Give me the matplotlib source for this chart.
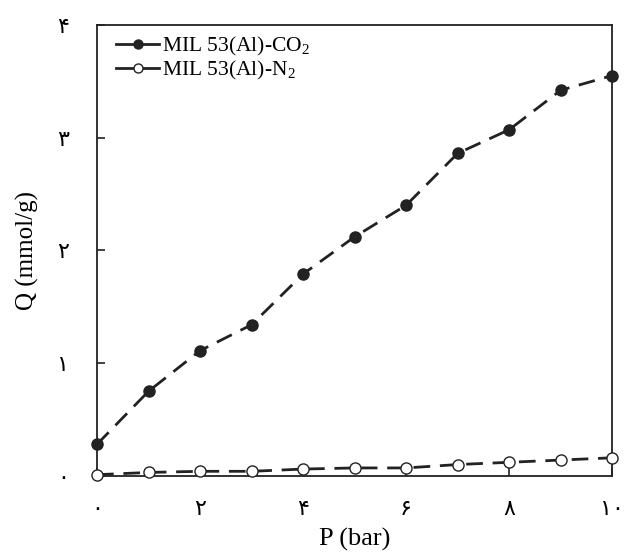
import numpy as np
import matplotlib
matplotlib.use('Agg')
import matplotlib.pyplot as plt
from matplotlib.lines import Line2D

# data
pressure = [0, 1, 2, 3, 4, 5, 6, 7, 8, 9, 10]
q_co2 = [0.28, 0.75, 1.11, 1.34, 1.79, 2.12, 2.40, 2.86, 3.07, 3.42, 3.55]
q_n2 = [0.01, 0.03, 0.04, 0.04, 0.06, 0.07, 0.07, 0.10, 0.12, 0.14, 0.16]

x_ticks = [0, 2, 4, 6, 8, 10]
x_labels = ['۰', '۲', '۴', '۶', '۸', '۱۰']
y_ticks = [0, 1, 2, 3, 4]
y_labels = ['۰', '۱', '۲', '۳', '۴']

plt.rcParams['font.family'] = ['Liberation Serif', 'DejaVu Sans']
plt.rcParams['mathtext.fontset'] = 'custom'
plt.rcParams['mathtext.rm'] = 'Liberation Serif'

fig = plt.figure(figsize=(6.26, 5.52), dpi=100)
ax = fig.add_axes([0.155, 0.138, 0.823, 0.817])

col = '#222222'
ax.plot(pressure, q_co2, color=col, lw=2.0, dashes=(6, 3.5), marker='o',
        ms=8, mfc=col, mec=col, clip_on=False, zorder=3)
ax.plot(pressure, q_n2, color=col, lw=2.0, dashes=(6, 3.5), marker='o',
        ms=8, mfc='white', mec=col, mew=1.0, clip_on=False, zorder=3)

ax.set_xlim(0, 10)
ax.set_ylim(0, 4)
ax.set_xticks(x_ticks)
ax.set_xticklabels(x_labels, family='DejaVu Sans', fontsize=16)
ax.set_yticks(y_ticks)
ax.set_yticklabels(y_labels, family='DejaVu Sans', fontsize=16)
ax.tick_params(direction='in', length=6, width=1.2, color=col)
ax.tick_params(axis='x', pad=17)
ax.tick_params(axis='y', pad=20)
ax.tick_params(axis='x', which='both', top=False)
ax.tick_params(axis='y', which='both', right=False)
for s in ax.spines.values():
    s.set_linewidth(1.3)
    s.set_color(col)

ax.set_xlabel('P (bar)', fontsize=19, labelpad=6)
ax.set_ylabel('Q (mmol/g)', fontsize=18, labelpad=13)

handles = [
    Line2D([], [], color=col, lw=2.0, marker='o', ms=6.5, mfc=col, mec=col),
    Line2D([], [], color=col, lw=2.0, marker='o', ms=6.5, mfc='white', mec=col, mew=1.0),
]
ax.legend(handles, ['MIL 53(Al)-CO$_2$', 'MIL 53(Al)-N$_2$'], loc='upper left',
          bbox_to_anchor=(0, 1.02), frameon=False, fontsize=15.5,
          handlelength=2.0, handletextpad=0.1,
          borderaxespad=0.6, borderpad=0.3, labelspacing=0.05)

fig.savefig('out.png', dpi=100)
